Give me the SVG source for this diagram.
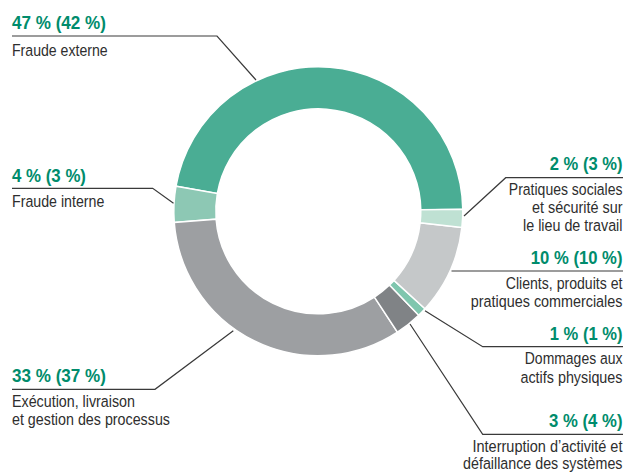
<svg xmlns="http://www.w3.org/2000/svg" width="626" height="473" viewBox="0 0 626 473">
<style>
.seg{stroke:#fff;stroke-width:1.5;stroke-linejoin:miter}
.lead{fill:none;stroke:#3a3a3a;stroke-width:1.2}
.pct{font-family:"Liberation Sans",Arial,sans-serif;font-weight:bold;font-size:18px;fill:#008c6c}
.lbl{font-family:"Liberation Sans",Arial,sans-serif;font-size:17px;fill:#2e2e2e}
.r{text-anchor:end}
</style>
<rect width="626" height="473" fill="#fff"/>
<g id="donut">
<path id="seg-fraude-externe" class="seg" fill="#4aad94" d="M462.79 209.28 A144.5 144.5 0 0 0 176.00 186.21 L217.36 193.50 A102.5 102.5 0 0 1 420.79 209.87 Z"/>
<path id="seg-fraude-interne" class="seg" fill="#8dc8b4" d="M176.00 186.21 A144.5 144.5 0 0 0 174.23 222.39 L216.10 219.16 A102.5 102.5 0 0 1 217.36 193.50 Z"/>
<path id="seg-execution" class="seg" fill="#9d9fa2" d="M174.23 222.39 A144.5 144.5 0 0 0 397.42 332.21 L374.42 297.07 A102.5 102.5 0 0 1 216.10 219.16 Z"/>
<path id="seg-interruption" class="seg" fill="#808386" d="M397.42 332.21 A144.5 144.5 0 0 0 418.68 315.24 L389.50 285.03 A102.5 102.5 0 0 1 374.42 297.07 Z"/>
<path id="seg-dommages" class="seg" fill="#7fc6ae" d="M418.68 315.24 A144.5 144.5 0 0 0 425.01 308.74 L393.99 280.42 A102.5 102.5 0 0 1 389.50 285.03 Z"/>
<path id="seg-clients" class="seg" fill="#c5c8c9" d="M425.01 308.74 A144.5 144.5 0 0 0 461.90 227.41 L420.16 222.73 A102.5 102.5 0 0 1 393.99 280.42 Z"/>
<path id="seg-pratiques" class="seg" fill="#bfe1d3" d="M461.90 227.41 A144.5 144.5 0 0 0 462.79 209.28 L420.79 209.87 A102.5 102.5 0 0 1 420.16 222.73 Z"/>
</g>
<g id="connectors">
<polyline class="lead" points="12,36 217,36 256,80"/>
<polyline class="lead" points="12,188.3 152.7,188.3 173.5,203.3"/>
<polyline class="lead" points="623,177.7 505.7,177.7 464,216"/>
<polyline class="lead" points="451.5,271 623,271"/>
<polyline class="lead" points="623,346.7 482.7,346.7 425,310.7"/>
<polyline class="lead" points="623,434.3 482.7,434.3 410,324"/>
<polyline class="lead" points="12,389.3 155,389.3 233.3,330.7"/>
</g>
<g id="label-fraude-externe">
<text class="pct" transform="scale(0.95 1)" x="12.63" y="29.3" textLength="98.95" lengthAdjust="spacingAndGlyphs">47 % (42 %)</text>
<text class="lbl" transform="scale(0.8 1)" x="15" y="55.8" textLength="119.6" lengthAdjust="spacingAndGlyphs">Fraude externe</text>
</g>
<g id="label-fraude-interne">
<text class="pct" transform="scale(0.95 1)" x="12.63" y="181.7" textLength="77.9" lengthAdjust="spacingAndGlyphs">4 % (3 %)</text>
<text class="lbl" transform="scale(0.8 1)" x="15" y="206.7" textLength="115.4" lengthAdjust="spacingAndGlyphs">Fraude interne</text>
</g>
<g id="label-pratiques">
<text class="pct r" transform="scale(0.95 1)" x="655.26" y="170" textLength="76.5" lengthAdjust="spacingAndGlyphs">2 % (3 %)</text>
<text class="lbl r" transform="scale(0.8 1)" x="778.1" y="195" textLength="142.1" lengthAdjust="spacingAndGlyphs">Pratiques sociales</text>
<text class="lbl r" transform="scale(0.8 1)" x="778.1" y="212.7" textLength="113" lengthAdjust="spacingAndGlyphs">et sécurité sur</text>
<text class="lbl r" transform="scale(0.8 1)" x="778.1" y="230.7" textLength="124.25" lengthAdjust="spacingAndGlyphs">le lieu de travail</text>
</g>
<g id="label-clients">
<text class="pct r" transform="scale(0.95 1)" x="655.26" y="264" textLength="96.5" lengthAdjust="spacingAndGlyphs">10 % (10 %)</text>
<text class="lbl r" transform="scale(0.8 1)" x="778.1" y="289" textLength="145.9" lengthAdjust="spacingAndGlyphs">Clients, produits et</text>
<text class="lbl r" transform="scale(0.8 1)" x="778.1" y="306.7" textLength="189.6" lengthAdjust="spacingAndGlyphs">pratiques commerciales</text>
</g>
<g id="label-dommages">
<text class="pct r" transform="scale(0.95 1)" x="655.26" y="340" textLength="76.5" lengthAdjust="spacingAndGlyphs">1 % (1 %)</text>
<text class="lbl r" transform="scale(0.8 1)" x="778.1" y="364.3" textLength="122.1" lengthAdjust="spacingAndGlyphs">Dommages aux</text>
<text class="lbl r" transform="scale(0.8 1)" x="778.1" y="382.7" textLength="127.5" lengthAdjust="spacingAndGlyphs">actifs physiques</text>
</g>
<g id="label-interruption">
<text class="pct r" transform="scale(0.95 1)" x="655.26" y="426.7" textLength="77.3" lengthAdjust="spacingAndGlyphs">3 % (4 %)</text>
<text class="lbl r" transform="scale(0.8 1)" x="778.1" y="452.3" textLength="187.5" lengthAdjust="spacingAndGlyphs">Interruption d’activité et</text>
<text class="lbl r" transform="scale(0.8 1)" x="778.1" y="469.5" textLength="199.25" lengthAdjust="spacingAndGlyphs">défaillance des systèmes</text>
</g>
<g id="label-execution">
<text class="pct" transform="scale(0.95 1)" x="12.63" y="382.3" textLength="98.95" lengthAdjust="spacingAndGlyphs">33 % (37 %)</text>
<text class="lbl" transform="scale(0.8 1)" x="15" y="407.3" textLength="153.75" lengthAdjust="spacingAndGlyphs">Exécution, livraison</text>
<text class="lbl" transform="scale(0.8 1)" x="15" y="425" textLength="197.5" lengthAdjust="spacingAndGlyphs">et gestion des processus</text>
</g>
</svg>
